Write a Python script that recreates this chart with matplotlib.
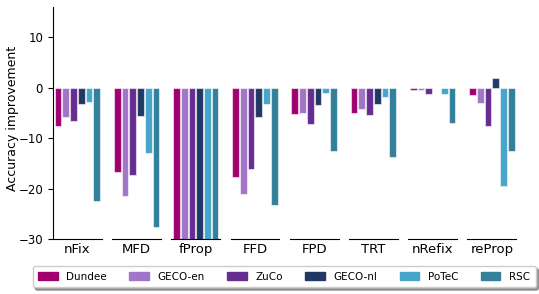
import matplotlib.pyplot as plt
from matplotlib.patches import Patch

# features shown along the x axis, one small panel each
features = ["nFix", "MFD", "fProp", "FFD", "FPD", "TRT", "nRefix", "reProp"]

# corpora (one bar per corpus in each panel)
corpora = ["Dundee", "GECO-en", "ZuCo", "GECO-nl", "PoTeC", "RSC"]
colors = ["#a1006f", "#a276c7", "#662d91", "#1f3864", "#46a6c9", "#32809a"]

# accuracy improvement per feature, order follows corpora
nfix = [-7.5, -5.8, -6.6, -3.2, -2.9, -22.4]
mfd = [-16.7, -21.5, -17.4, -5.6, -12.9, -27.6]
fprop = [-35.0, -35.0, -35.0, -35.0, -35.0, -35.0]  # all go below -30
ffd = [-17.7, -21.0, -16.2, -5.9, -3.3, -23.3]
fpd = [-5.2, -5.0, -7.2, -3.4, -1.1, -12.6]
trt = [-5.0, -4.2, -5.4, -3.3, -1.9, -13.7]
nrefix = [-0.4, -0.5, -1.3, -0.1, -1.2, -6.9]
reprop = [-1.4, -3.1, -7.6, 1.9, -19.4, -12.5]

values = [nfix, mfd, fprop, ffd, fpd, trt, nrefix, reprop]

fig, axes = plt.subplots(1, len(features), sharey=True, figsize=(5.39, 2.94), dpi=100)
fig.subplots_adjust(left=0.098, right=0.958, top=0.976, bottom=0.187, wspace=0.21)

for i, ax in enumerate(axes):
    pos = list(range(len(corpora)))
    ax.bar(pos, values[i], width=0.87, color=colors,
           edgecolor=(1, 1, 1, 0.55), linewidth=0.8)
    ax.set_xlim(-0.66, 5.66)
    ax.set_ylim(-30, 16)
    ax.set_xticks([])
    ax.set_xlabel(features[i], fontsize=9.5, labelpad=3)
    ax.spines["top"].set_visible(False)
    ax.spines["right"].set_visible(False)
    if i > 0:
        ax.spines["left"].set_visible(False)
        ax.tick_params(axis="y", left=False)

axes[0].set_yticks([10, 0, -10, -20, -30])
axes[0].tick_params(axis="y", labelsize=8.5)
axes[0].set_ylabel("Accuracy improvement", fontsize=9)
axes[0].yaxis.set_label_coords(-0.7, 0.52)

handles = [Patch(color=c) for c in colors]
fig.legend(handles, corpora, loc="lower center", bbox_to_anchor=(0.527, 0.005),
           ncol=6, fontsize=7.5, shadow=True, fancybox=True,
           handlelength=1.9, handletextpad=0.8, columnspacing=2.15, borderpad=0.55)

plt.savefig("out.png", dpi=100)
